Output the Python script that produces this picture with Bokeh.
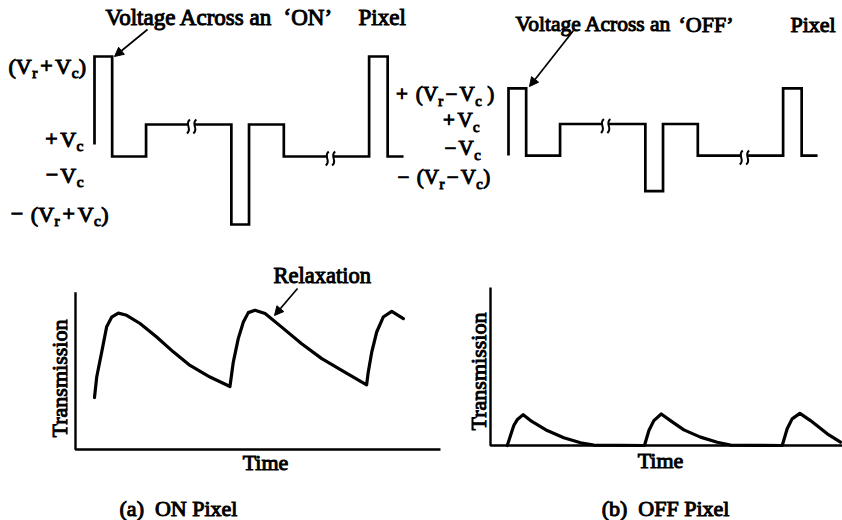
import math
from bokeh.plotting import figure
from bokeh.models import Range1d, Arrow, NormalHead
from bokeh.core.properties import value
from bokeh.embed import file_html
from bokeh.resources import INLINE

# ---------------- data ----------------
VC = 1.0
VR = 4.25
seg_t = [0.0, 1.0, 2.92, 7.75, 8.75, 10.72, 15.55, 16.6, 17.5]
on_start = -0.25
on_levels = [VR + VC, -VC, VC, -(VR + VC), VC, -VC, VR + VC, -VC]
off_start = -VC
off_levels = [VR - VC, -VC, VC, -(VR - VC), VC, -VC, VR - VC, -VC]
break_t = [5.5, 13.36]

on_labels = ["(V_r+V_c)", "+V_c", "\u2212V_c", "\u2212 (V_r+V_c)"]
off_labels = ["+ (V_r\u2212V_c )", "+V_c", "\u2212V_c", "\u2212 (V_r\u2212V_c)"]

on_tr_t = [0.0, 0.125, 0.41, 0.69, 0.97, 1.35, 1.82, 2.58, 3.52, 4.46, 5.41, 6.54, 7.67,
           7.86, 8.14, 8.43, 8.71, 9.09, 9.66, 10.60, 11.73, 12.87, 14.00, 15.41,
           15.50, 15.70, 15.98, 16.35, 16.83, 17.49]
on_tr = [0.33, 0.46, 0.62, 0.78, 0.84, 0.866, 0.852, 0.80, 0.714, 0.62, 0.534, 0.46, 0.40,
         0.555, 0.704, 0.809, 0.869, 0.884, 0.863, 0.777, 0.672, 0.577, 0.502, 0.411,
         0.491, 0.619, 0.746, 0.841, 0.877, 0.831]

off_tr_t = [-0.07, 0.30, 0.49, 0.83, 1.25, 2.19, 3.13, 4.08, 4.83, 7.70,
            7.95, 8.23, 8.65, 9.17, 9.93, 10.87, 11.82, 12.57, 15.50,
            15.78, 16.06, 16.50, 17.10, 18.05, 18.80]
off_tr = [0.0, 0.127, 0.163, 0.196, 0.158, 0.095, 0.049, 0.017, 0.003, 0.0,
          0.095, 0.158, 0.200, 0.158, 0.099, 0.053, 0.021, 0.003, 0.0,
          0.106, 0.169, 0.204, 0.158, 0.074, 0.021]

# ---------------- layout (picture pixels) ----------------
W, H = 842, 520
PX0, PX1, PY0, PY1 = 0, W, 0, H
T_SCALE = 17.66
ON_X0, OFF_X0 = 94.0, 508.0
ON_VY0, ON_VS = 140.0, 16.0
OFF_VY0, OFF_VS = 139.3, 15.8
ON_TY0, OFF_TY0, TR_S = 449.0, 445.0, 157.5
FONT = value("Liberation Serif")
INK = "#000000"
MID = 0.3375  # em distance from alphabetic baseline up to the em-box middle
TEXT_STYLE = dict(text_font=FONT, text_color=INK, text_outline_color=INK)


def x_range_for(x0):
    return Range1d((PX0 - x0) / T_SCALE, (PX1 - x0) / T_SCALE)


def y_range_for(y0, s):
    return Range1d((y0 - PY1) / s, (y0 - PY0) / s)


p = figure(width=W, height=H, x_range=Range1d(PX0, PX1), y_range=Range1d(PY1, PY0),
           output_backend="svg", toolbar_location=None, min_border=0,
           x_axis_location=None, y_axis_location=None)
p.grid.visible = False
p.outline_line_color = None
p.background_fill_color = "white"
p.extra_x_ranges = {"t_on": x_range_for(ON_X0), "t_off": x_range_for(OFF_X0)}
p.extra_y_ranges = {"v_on": y_range_for(ON_VY0, ON_VS), "v_off": y_range_for(OFF_VY0, OFF_VS),
                    "tr_on": y_range_for(ON_TY0, TR_S), "tr_off": y_range_for(OFF_TY0, TR_S)}


def step_path(start, t, levels):
    xs, ys = [t[0]], [start]
    for i, lv in enumerate(levels):
        xs += [t[i], t[i + 1]]
        ys += [lv, lv]
    return xs, ys


def level_at(tb, t, levels):
    for i, lv in enumerate(levels):
        if t[i] <= tb <= t[i + 1]:
            return lv
    return levels[-1]


for start, levels, xr, yr, vs in [(on_start, on_levels, "t_on", "v_on", ON_VS),
                                  (off_start, off_levels, "t_off", "v_off", OFF_VS)]:
    xs, ys = step_path(start, seg_t, levels)
    p.line(xs, ys, x_range_name=xr, y_range_name=yr, line_width=2.7, line_color=INK,
           line_join="miter")
    bl = [level_at(tb, seg_t, levels) for tb in break_t]
    p.rect(x=break_t, y=bl, width=6, height=6, width_units="screen", height_units="screen",
           fill_color="white", line_color=None, x_range_name=xr, y_range_name=yr)
    d = lambda px: px / T_SCALE
    v = lambda px, s=vs: -px / s
    for side in (-3.2, 3.2):
        p.bezier(x0=[tb + d(side + 1.5) for tb in break_t], y0=[b + v(-5) for b in bl],
                 x1=[tb + d(side - 1.5) for tb in break_t], y1=[b + v(9) for b in bl],
                 cx0=[tb + d(side - 4.5) for tb in break_t], cy0=[b + v(0) for b in bl],
                 cx1=[tb + d(side + 4.5) for tb in break_t], cy1=[b + v(4) for b in bl],
                 x_range_name=xr, y_range_name=yr, line_width=2, line_color=INK)

# transmission curves
p.line(on_tr_t, on_tr, x_range_name="t_on", y_range_name="tr_on", line_width=3.2,
       line_color=INK, line_join="round", line_cap="round")
p.line(off_tr_t, off_tr, x_range_name="t_off", y_range_name="tr_off", line_width=3.2,
       line_color=INK, line_join="round", line_cap="round")

# axes frames of the transmission panels
p.line([75, 75, 440], [291.7, ON_TY0, ON_TY0], line_width=2.4, line_color=INK)
p.line([490, 490, 842], [287, OFF_TY0, OFF_TY0], line_width=2.4, line_color=INK)

# arrows
for xs_, ys_, xe_, ye_ in [(147, 29, 114, 56), (573, 30, 529, 86), (297, 288, 274, 315)]:
    p.add_layout(Arrow(end=NormalHead(size=9, fill_color=INK, line_color=INK, line_width=1),
                       x_start=xs_, y_start=ys_, x_end=xe_, y_end=ye_,
                       line_width=1.7, line_color=INK))

# composed labels with subscripts (Times-metric advances, em)
ADV = {"(": 0.333, ")": 0.333, "+": 0.564, "\u2212": 0.564, " ": 0.25, "V": 0.722,
       "r": 0.333, "c": 0.444}
PAD = {"+": 0.12, "\u2212": 0.1}
SUB = 0.7


def compose(label, x, yb, size):
    main, sub = ([], [], []), ([], [], [])
    i, cx = 0, x
    ssize = size * SUB
    while i < len(label):
        ch = label[i]
        if ch == "_":
            c = label[i + 1]
            sub[0].append(cx + 0.5)
            sub[1].append(yb + size * 0.2 - MID * ssize)
            sub[2].append(c)
            cx += ADV.get(c, 0.5) * ssize + 0.8
            i += 2
            continue
        cx += PAD.get(ch, 0) * size
        main[0].append(cx); main[1].append(yb - MID * size); main[2].append(ch)
        cx += (ADV.get(ch, 0.5) + PAD.get(ch, 0)) * size
        i += 1
    return main, sub


def draw_labels(labels, anchors, size):
    mx, my, mt, sx, sy, st = [], [], [], [], [], []
    for lab, (x, y) in zip(labels, anchors):
        m, s = compose(lab, x, y, size)
        mx += m[0]; my += m[1]; mt += m[2]
        sx += s[0]; sy += s[1]; st += s[2]
    p.text(mx, my, text=mt, text_font_size=f"{size}px",
           text_baseline="middle", text_align="left", **TEXT_STYLE)
    p.text(sx, sy, text=st, text_font_size=f"{size * SUB:.1f}px",
           text_baseline="middle", text_align="left", **TEXT_STYLE)


draw_labels(on_labels, [(8, 73), (42, 146), (43, 182), (8, 221)], 22)
draw_labels(off_labels, [(393, 101), (440, 127), (442, 155), (395, 184)], 21)


def txt(x, yb, s, size, align="left", angle=0.0, center=None):
    y = yb - MID * size if center is None else center
    p.text([x], [y], text=[s], text_font_size=f"{size}px",
           text_align=align, text_baseline="middle", angle=angle, **TEXT_STYLE)


txt(105, 25, "Voltage Across an", 23)
txt(283, 25, "\u2018ON\u2019", 23)
txt(358, 25, "Pixel", 23)
txt(515, 31, "Voltage Across an", 21.5)
txt(678, 31, "\u2018OFF\u2019", 22)
txt(790, 31, "Pixel", 22)
txt(273, 283, "Relaxation", 22.5)
txt(265, 469, "Time", 22, align="center")
txt(660, 467, "Time", 22, align="center")
txt(59, 0, "Transmission", 22, align="center", angle=math.pi / 2, center=378)
txt(478, 0, "Transmission", 22, align="center", angle=math.pi / 2, center=371)
txt(178, 515, "(a)\u2002ON Pixel", 22, align="center")
txt(665, 515, "(b)\u2002OFF Pixel", 22, align="center")

open("out.html", "w").write(file_html(p, INLINE))
